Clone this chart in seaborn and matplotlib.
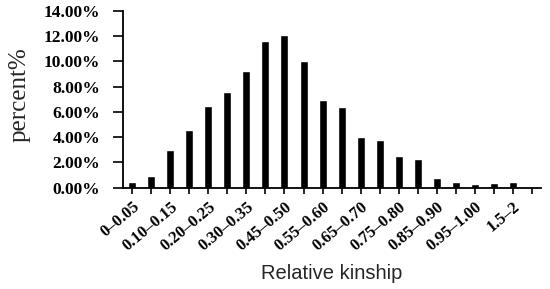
import numpy as np
import pandas as pd
import matplotlib
matplotlib.use("Agg")
import matplotlib.pyplot as plt
import seaborn as sns

# -----------------------------
# 1. Data
# -----------------------------
kinship_bins = [
    "0–0.05", "0.05–0.10", "0.10–0.15", "0.15–0.20", "0.20–0.25", "0.25–0.30",
    "0.30–0.35", "0.35–0.45", "0.45–0.50", "0.50–0.55", "0.55–0.60", "0.60–0.65",
    "0.65–0.70", "0.70–0.75", "0.75–0.80", "0.80–0.85", "0.85–0.90", "0.90–0.95",
    "0.95–1.00", "1.00–1.5", "1.5–2", "2–2.5",
]
percent_values = [
    0.45, 0.9, 3.0, 4.6, 6.5, 7.55, 9.25, 11.6, 12.1, 10.05, 6.95,
    6.4, 4.05, 3.75, 2.5, 2.3, 0.8, 0.45, 0.3, 0.4, 0.45,
]
y_ticks = [0, 2, 4, 6, 8, 10, 12, 14]

df = pd.DataFrame({"bin": kinship_bins[:len(percent_values)], "percent": percent_values})

# -----------------------------
# 2. Plot
# -----------------------------
sns.set_style("ticks")
fig = plt.figure(figsize=(5.5, 2.89), dpi=100)
ax = fig.add_axes([0.223, 0.3505, 0.7615, 0.6115])

sns.barplot(data=df, x="bin", y="percent", order=kinship_bins, color="black",
            width=0.42, ax=ax)

ax.set_xlim(-0.5, len(kinship_bins) - 0.5)
ax.set_ylim(0, 14)
ax.set_yticks(y_ticks)
ax.set_yticklabels([f"{v:.2f}%" for v in y_ticks], fontfamily="Liberation Serif",
                   fontweight="bold", fontsize=12.5)

# only every other bin is labelled, as in the original
ax.set_xticks(range(len(kinship_bins)))
ax.set_xticklabels([b if i % 2 == 0 else "" for i, b in enumerate(kinship_bins)],
                   rotation=40, ha="right", rotation_mode="anchor",
                   fontfamily="Liberation Serif", fontweight="bold", fontsize=12)

ax.tick_params(axis="y", length=7, width=1.2, pad=9, colors="black")
ax.tick_params(axis="x", length=4, width=1.2, pad=4, colors="black")

ax.set_ylabel("percent%", fontfamily="Liberation Serif", fontsize=18, va="center")
ax.yaxis.set_label_coords(-0.245, 0.525)
ax.set_xlabel("Relative kinship", fontfamily="Liberation Sans", fontsize=14.5, va="center")
ax.xaxis.set_label_coords(0.5, -0.483)

sns.despine(ax=ax)
for side in ["left", "bottom"]:
    ax.spines[side].set_linewidth(1.3)
    ax.spines[side].set_color("black")

fig.savefig("out.png", dpi=100)
